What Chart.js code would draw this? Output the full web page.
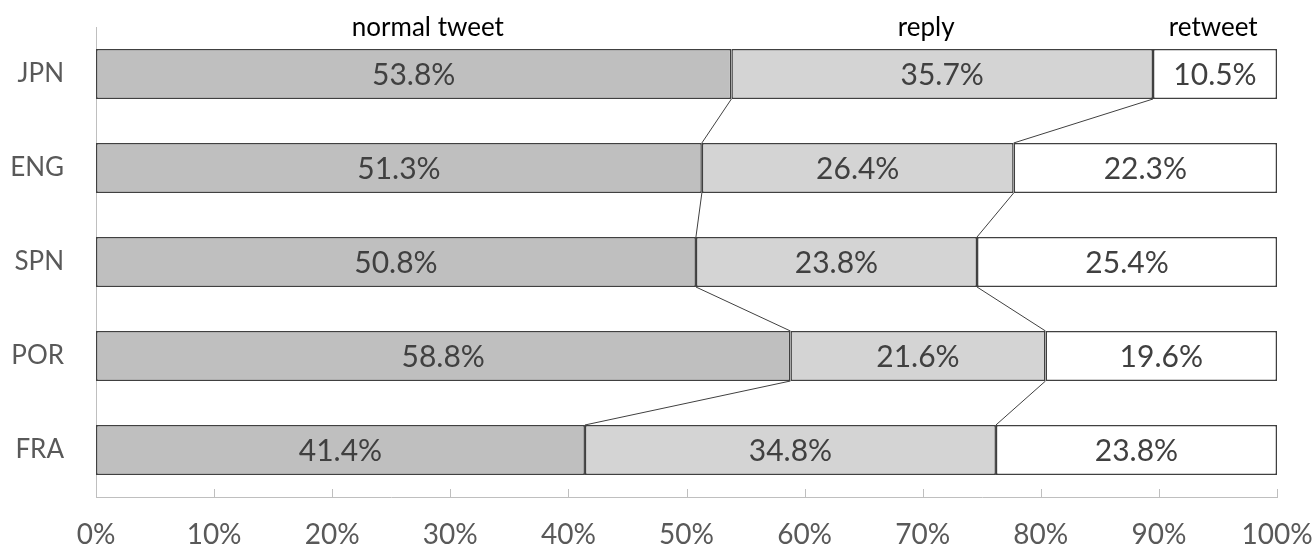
<!DOCTYPE html>
<html>
<head>
<meta charset="utf-8">
<script src="https://cdn.jsdelivr.net/npm/chart.js@4.4.1/dist/chart.umd.min.js"></script>
<style>
  html, body { margin: 0; padding: 0; background: #ffffff; }
  #wrap { width: 1314px; height: 544px; }
</style>
</head>
<body>
<div id="wrap"><canvas id="c" width="1314" height="544"></canvas></div>
<script>
// Tweet type shares by language (percent of all tweets)
const languages = ['JPN', 'ENG', 'SPN', 'POR', 'FRA'];
const seriesNames = ['normal tweet', 'reply', 'retweet'];
const normalTweet = [53.8, 51.3, 50.8, 58.8, 41.4];
const reply = [35.7, 26.4, 23.8, 21.6, 34.8];
const retweet = [10.5, 22.3, 25.4, 19.6, 23.8];
const percentTicks = [0, 10, 20, 30, 40, 50, 60, 70, 80, 90, 100];

const FONT = 'Lato, "Open Sans", sans-serif';
const fills = ['#BFBFBF', '#D4D4D4', '#FFFFFF'];
const edge = '#404040';

// Value text inside each segment
const segmentLabels = {
  id: 'segmentLabels',
  afterDatasetsDraw(chart) {
    const ctx = chart.ctx;
    ctx.save();
    ctx.font = '30px ' + FONT;
    ctx.fillStyle = '#404040';
    ctx.textAlign = 'center';
    ctx.textBaseline = 'middle';
    chart.data.datasets.forEach((ds, di) => {
      const meta = chart.getDatasetMeta(di);
      meta.data.forEach((el, i) => {
        const cx = (el.x + el.base) / 2;
        ctx.fillText(ds.data[i].toFixed(1) + '%', cx, el.y + 1);
      });
    });
    ctx.restore();
  }
};

// Series lines joining segment boundaries of neighbouring bars
const seriesLines = {
  id: 'seriesLines',
  afterDatasetsDraw(chart) {
    const ctx = chart.ctx;
    const xs = chart.scales.x;
    ctx.save();
    ctx.strokeStyle = '#404040';
    ctx.lineWidth = 1;
    const n = chart.data.labels.length;
    const cum = new Array(n).fill(0);
    for (let di = 0; di < chart.data.datasets.length - 1; di++) {
      const data = chart.data.datasets[di].data;
      for (let i = 0; i < n; i++) cum[i] += data[i];
      const meta = chart.getDatasetMeta(di);
      for (let i = 0; i < n - 1; i++) {
        const a = meta.data[i], b = meta.data[i + 1];
        ctx.beginPath();
        ctx.moveTo(xs.getPixelForValue(cum[i]), a.y + a.height / 2);
        ctx.lineTo(xs.getPixelForValue(cum[i + 1]), b.y - b.height / 2);
        ctx.stroke();
      }
    }
    ctx.restore();
  }
};

// Small upward tick marks on the percent axis, plus series names above the bars
const axisDecor = {
  id: 'axisDecor',
  afterDraw(chart, args, opts) {
    const ctx = chart.ctx;
    const xs = chart.scales.x;
    const area = chart.chartArea;
    ctx.save();
    ctx.strokeStyle = '#BFBFBF';
    ctx.lineWidth = 1;
    xs.ticks.forEach(t => {
      const px = Math.round(xs.getPixelForValue(t.value)) + 0.5;
      ctx.beginPath();
      ctx.moveTo(px, area.bottom - 8);
      ctx.lineTo(px, area.bottom);
      ctx.stroke();
    });
    ctx.font = '26px ' + FONT;
    ctx.fillStyle = '#000000';
    ctx.textAlign = 'center';
    ctx.textBaseline = 'alphabetic';
    seriesNames.forEach((name, i) => {
      ctx.fillText(name, xs.getPixelForValue(opts.anchors[i]), 36);
    });
    ctx.restore();
  }
};

new Chart(document.getElementById('c'), {
  type: 'bar',
  data: {
    labels: languages,
    datasets: [normalTweet, reply, retweet].map((d, i) => ({
      label: seriesNames[i],
      data: d,
      backgroundColor: fills[i],
      borderColor: edge,
      borderWidth: 1.5,
      borderSkipped: false,
      barPercentage: 0.532,
      categoryPercentage: 1
    }))
  },
  options: {
    indexAxis: 'y',
    responsive: false,
    animation: false,
    layout: { padding: { top: 27, right: 37, left: 0, bottom: 0 } },
    plugins: {
      legend: { display: false },
      tooltip: { enabled: false },
      axisDecor: { anchors: [28.1, 70.3, 94.6] }
    },
    scales: {
      x: {
        stacked: true,
        min: 0,
        max: 100,
        afterBuildTicks(scale) { scale.ticks = percentTicks.map(v => ({ value: v })); },
        ticks: {
          callback: v => v + '%',
          font: { family: FONT, size: 28 },
          color: '#595959',
          padding: 13,
          maxRotation: 0
        },
        grid: { display: false },
        border: { display: true, color: '#BFBFBF', width: 1 },
        afterFit(scale) {
          scale.height = 47;
          scale.paddingLeft = 0;
          scale.paddingRight = 0;
        }
      },
      y: {
        stacked: true,
        ticks: {
          font: { family: FONT, size: 26 },
          color: '#595959',
          padding: 24
        },
        grid: { display: false },
        border: { display: true, color: '#BFBFBF', width: 1 },
        afterFit(scale) {
          scale.width = 96;
          scale.paddingTop = 0;
          scale.paddingBottom = 0;
        }
      }
    }
  },
  plugins: [segmentLabels, seriesLines, axisDecor]
});
</script>
</body>
</html>
